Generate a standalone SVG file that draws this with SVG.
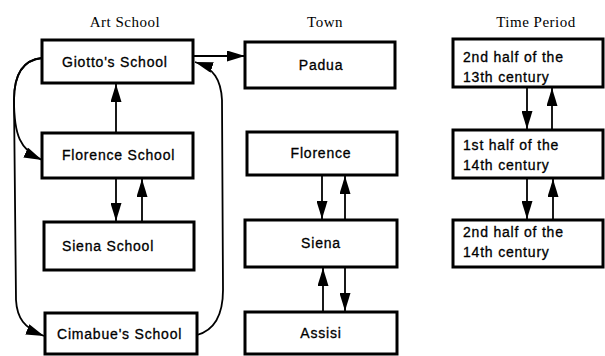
<svg xmlns="http://www.w3.org/2000/svg" width="605" height="356" viewBox="0 0 605 356">
<style>
.box{fill:#fff;stroke:#000;stroke-width:3}
.lbl{font-family:"Liberation Sans",Arial,sans-serif;font-size:14px;letter-spacing:0.8px;fill:#000;stroke:#000;stroke-width:0.3}
.ttl{font-family:"Liberation Serif","Times New Roman",serif;font-size:15px;letter-spacing:0.5px;fill:#000;text-anchor:middle}
.c{text-anchor:middle}
.edge{fill:none;stroke:#000;stroke-width:1.8}
</style>
<defs>
<marker id="ah" markerUnits="userSpaceOnUse" markerWidth="18" markerHeight="11" refX="18" refY="5.5" orient="auto">
<path d="M0,0 L18,5.5 L0,11 z" fill="#000"/>
</marker>
</defs>
<rect width="605" height="356" fill="#fff"/>
<g id="titles">
<text class="ttl" x="125" y="27">Art School</text>
<text class="ttl" x="325" y="27">Town</text>
<text class="ttl" x="536" y="27">Time Period</text>
</g>
<g id="connectors">
<path class="edge" d="M193,56 L245,56" marker-end="url(#ah)"/>
<path class="edge" d="M116,133 L116,84" marker-end="url(#ah)"/>
<path class="edge" d="M116,179 L116,221" marker-end="url(#ah)"/>
<path class="edge" d="M142,221 L142,179" marker-end="url(#ah)"/>
<path class="edge" d="M42,58 C22,60 14,75 14,100 C14,135 20,150 42,160" marker-end="url(#ah)"/>
<path class="edge" d="M42,58 C22,60 14,75 14,100 L16,300 C17,318 24,328 44,336" marker-end="url(#ah)"/>
<path class="edge" d="M197,335 C215,330 223,315 223,290 L222,100 C221,80 214,68 195,62" marker-end="url(#ah)"/>
<path class="edge" d="M322,176 L322,219" marker-end="url(#ah)"/>
<path class="edge" d="M345,219 L345,176" marker-end="url(#ah)"/>
<path class="edge" d="M323,311 L323,268" marker-end="url(#ah)"/>
<path class="edge" d="M345,268 L345,311" marker-end="url(#ah)"/>
<path class="edge" d="M527,88 L527,129" marker-end="url(#ah)"/>
<path class="edge" d="M552,129 L552,88" marker-end="url(#ah)"/>
<path class="edge" d="M527,179 L527,219" marker-end="url(#ah)"/>
<path class="edge" d="M553,219 L553,179" marker-end="url(#ah)"/>
</g>
<g id="giotto"><rect class="box" x="42" y="40" width="151" height="43"/><text class="lbl" x="62" y="67">Giotto's School</text></g>
<g id="florence-school"><rect class="box" x="42" y="133" width="151" height="45"/><text class="lbl" x="62" y="160">Florence School</text></g>
<g id="siena-school"><rect class="box" x="44" y="222" width="150" height="48"/><text class="lbl" x="62" y="251">Siena School</text></g>
<g id="cimabue"><rect class="box" x="45" y="313" width="152" height="41"/><text class="lbl" x="57" y="339">Cimabue's School</text></g>
<g id="padua"><rect class="box" x="245" y="42" width="150" height="46"/><text class="lbl c" x="321" y="70">Padua</text></g>
<g id="florence"><rect class="box" x="247" y="132" width="150" height="43"/><text class="lbl c" x="321" y="158">Florence</text></g>
<g id="siena"><rect class="box" x="245" y="220" width="152" height="47"/><text class="lbl c" x="321" y="248">Siena</text></g>
<g id="assisi"><rect class="box" x="245" y="312" width="152" height="42"/><text class="lbl c" x="321" y="338">Assisi</text></g>
<g id="t1"><rect class="box" x="453" y="39" width="150" height="48"/><text class="lbl" x="463" y="62">2nd half of the</text><text class="lbl" x="463" y="82">13th century</text></g>
<g id="t2"><rect class="box" x="453" y="130" width="150" height="48"/><text class="lbl" x="463" y="150">1st half of the</text><text class="lbl" x="463" y="170">14th century</text></g>
<g id="t3"><rect class="box" x="453" y="220" width="150" height="47"/><text class="lbl" x="463" y="237">2nd half of the</text><text class="lbl" x="463" y="257">14th century</text></g>
</svg>
